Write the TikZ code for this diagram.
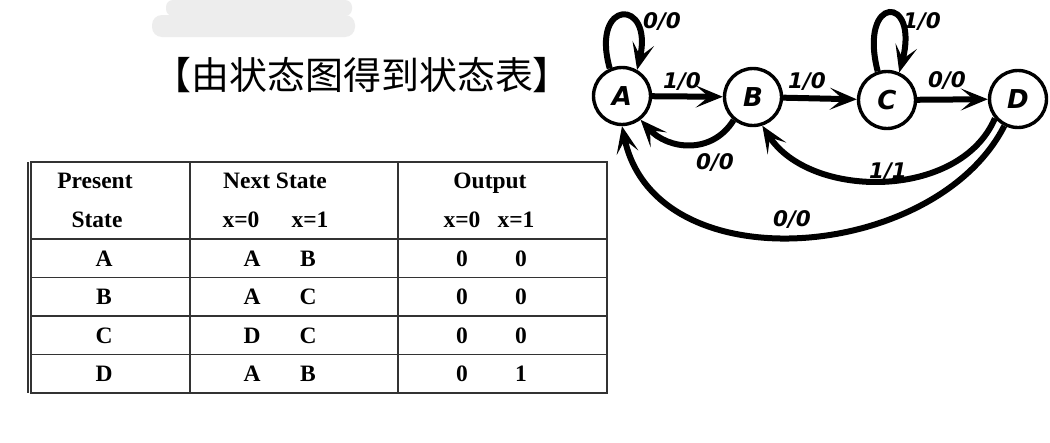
\documentclass[tikz,border=0pt]{standalone}
\usepackage{fontspec}
\setmainfont{Liberation Serif}
\newfontfamily\cjkfont{Noto Sans CJK SC}
\newfontfamily\labfont{DejaVu Sans}
\usetikzlibrary{arrows.meta}
\tikzset{
  state/.style={circle,draw,line width=3.4pt,minimum size=57pt,inner sep=0pt,font=\labfont\bfseries\itshape\fontsize{26}{26}\selectfont},
  arr/.style={line width=6pt,-{Stealth[length=27pt,width=22pt,inset=13pt]}},
  lab/.style={font=\labfont\bfseries\itshape\fontsize{21.5}{21.5}\selectfont,inner sep=0pt},
  tline/.style={line width=1.8pt,black!80},
  tcell/.style={font=\bfseries\fontsize{23.5}{23.5}\selectfont,anchor=base,inner sep=0pt}
}
\begin{document}
\begin{tikzpicture}[x=1pt,y=-1pt]
\useasboundingbox[fill=white] (0,0) rectangle (1050,442);
% grey smudge
\fill[black!7,rounded corners=7pt] (166,0) rectangle (352,16);
\fill[black!7,rounded corners=10pt] (152,15) rectangle (355,37);
% title
\node[font=\cjkfont\fontsize{38}{38}\selectfont,inner sep=0pt] (title) at (362,75) {【由状态图得到状态表】};
% table
\draw[tline] (31,162) rectangle (607,393);
\draw[tline,line width=1.3pt] (28,162) -- (28,393);
\foreach \y in {239,277.5,316,354.5} \draw[tline] (31,\y) -- (607,\y);
\draw[tline] (190,162) -- (190,393);
\draw[tline] (398,162) -- (398,393);
\node[tcell] (h1) at (95,188) {Present};
\node[tcell] (h2) at (97,227) {State};
\node[tcell] (h3) at (275,188) {Next State};
\node[tcell] (h4) at (241,227) {x=0};
\node[tcell] (h5) at (310,227) {x=1};
\node[tcell] (h6) at (490,188) {Output};
\node[tcell] (h7) at (462,227) {x=0};
\node[tcell] (h8) at (516,227) {x=1};
\foreach \p/\n/\m/\o/\q/\yy in {A/A/B/0/0/266,B/A/C/0/0/304.5,C/D/C/0/0/343,D/A/B/0/1/381.5}{
  \node[tcell] (p\p) at (104,\yy) {\p};
  \node[tcell] (n\p) at (252,\yy) {\n};
  \node[tcell] (m\p) at (308,\yy) {\m};
  \node[tcell] (o\p) at (462,\yy) {\o};
  \node[tcell] (q\p) at (521,\yy) {\q};
}
% state diagram
\node[state] (A) at (622,96) {A};
\node[state] (B) at (753,97) {B};
\node[state] (C) at (887,100) {C};
\node[state] (D) at (1018,99) {D};
\draw[arr] (A.114) .. controls (590,-2) and (654,-2) .. (A.60);
\draw[arr] (C.108) .. controls (858,-6) and (920,-6) .. (C.66);
\draw[arr] (A) -- (B);
\draw[arr] (B) -- (C);
\draw[arr] (C) -- (D);
\draw[arr] (B.-130) .. controls (712,155) and (668,150) .. (A.-52);
\draw[arr] (D.-140) .. controls (960,200) and (810,200) .. (B.-72);
\draw[arr] (D.-117) .. controls (935,262) and (655,285) .. (A.-90);
\node[lab] (l1) at (662,22) {0/0};
\node[lab] (l2) at (922,22) {1/0};
\node[lab] (l3) at (682,82) {1/0};
\node[lab] (l4) at (807,82) {1/0};
\node[lab] (l5) at (947,81) {0/0};
\node[lab] (l6) at (715,163) {0/0};
\node[lab] (l7) at (888,172) {1/1};
\node[lab] (l8) at (792,220) {0/0};
\end{tikzpicture}
\end{document}
